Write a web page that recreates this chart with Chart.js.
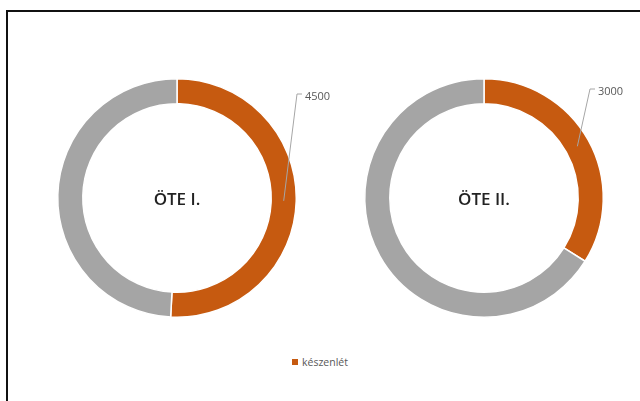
<!DOCTYPE html>
<html>
<head>
<meta charset="utf-8">
<script src="https://cdn.jsdelivr.net/npm/chart.js@4.4.1/dist/chart.umd.min.js"></script>
<style>
  html, body { margin: 0; padding: 0; background: #fff; }
  #wrap { position: relative; width: 640px; height: 401px; overflow: hidden; background: #fff; }
  #frame { position: absolute; left: 6px; top: 10px; width: 700px; height: 500px;
           border-top: 2.5px solid #111; border-left: 2.5px solid #111; }
  .box { position: absolute; height: 300px; }
  #legend { position: absolute; left: 0; width: 640px; top: 355px; text-align: center;
            font: 10.5px "Open Sans", sans-serif; color: #595959; }
  #legend span.mk { display: inline-block; width: 6px; height: 6px; margin-right: 4px; vertical-align: 1px; }
</style>
</head>
<body>
<div id="wrap">
  <div id="frame"></div>
  <div class="box" style="left:27px; top:48px; width:360px;"><canvas id="c1" width="360" height="300"></canvas></div>
  <div class="box" style="left:334px; top:48px; width:306px;"><canvas id="c2" width="306" height="300"></canvas></div>
  <div id="legend"></div>
</div>
<script>
// series
const categories = ['készenlét', ''];
const units = ['ÖTE I.', 'ÖTE II.'];
const keszenlet = [4500, 3000];
const maradek = [4350, 5850];
const colors = ['#C65A10', '#A5A5A5'];

// label placement for the készenlét value (offset from centre, px)
const labelPos = [{ dx: 128, dy: -101 }, { dx: 114, dy: -106 }];

const centerText = {
  id: 'centerText',
  afterDraw(chart, args, opts) {
    const arc = chart.getDatasetMeta(0).data[0];
    const ctx = chart.ctx;
    ctx.save();
    ctx.font = '600 17px "Open Sans", sans-serif';
    ctx.fillStyle = '#222';
    ctx.textAlign = 'center';
    ctx.textBaseline = 'middle';
    ctx.fillText(opts.text, arc.x, arc.y + 2);

    // value label with leader line
    const a = (arc.startAngle + arc.endAngle) / 2;
    const r = (arc.innerRadius + arc.outerRadius) / 2;
    const px = arc.x + Math.cos(a) * r;
    const py = arc.y + Math.sin(a) * r;
    const lx = arc.x + opts.pos.dx;
    const ly = arc.y + opts.pos.dy;
    ctx.strokeStyle = '#A6A6A6';
    ctx.lineWidth = 1;
    ctx.beginPath();
    ctx.moveTo(px, py);
    ctx.lineTo(lx - 8, ly - 3);
    ctx.lineTo(lx - 3, ly - 3);
    ctx.stroke();
    ctx.font = '11px "Open Sans", sans-serif';
    ctx.fillStyle = '#595959';
    ctx.textAlign = 'left';
    ctx.fillText(String(chart.data.datasets[0].data[0]), lx, ly);
    ctx.restore();
  }
};

function makeChart(id, i, padRight) {
  return new Chart(document.getElementById(id), {
    type: 'doughnut',
    data: {
      labels: categories,
      datasets: [{
        data: [keszenlet[i], maradek[i]],
        backgroundColor: colors,
        borderColor: '#fff',
        borderWidth: 1.5
      }]
    },
    options: {
      responsive: false,
      animation: false,
      cutout: '79%',
      layout: { padding: { top: 30, bottom: 30, left: 30, right: padRight } },
      plugins: {
        legend: { display: false },
        tooltip: { enabled: false },
        centerText: { text: units[i], pos: labelPos[i] }
      }
    },
    plugins: [centerText]
  });
}

makeChart('c1', 0, 90);
makeChart('c2', 1, 36);

// shared legend
const lg = document.getElementById('legend');
categories.forEach((c, k) => {
  if (!c) return;
  lg.innerHTML += '<span class="mk" style="background:' + colors[k] + '"></span>' + c;
});
</script>
</body>
</html>
